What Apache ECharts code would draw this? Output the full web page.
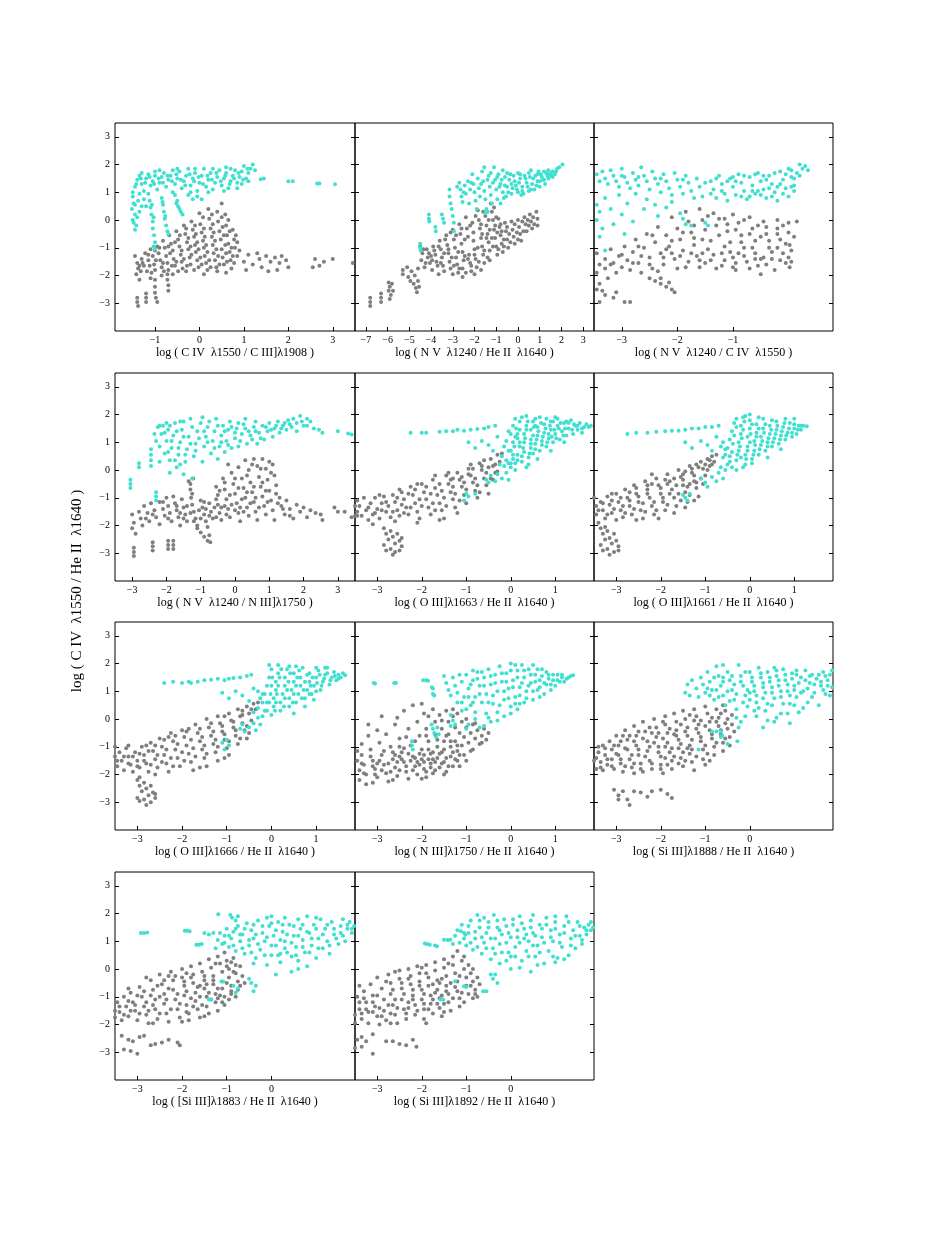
<!DOCTYPE html>
<html>
<head>
<meta charset="utf-8">
<script src="https://cdn.jsdelivr.net/npm/echarts@6/dist/echarts.min.js"></script>
<style>
html,body{margin:0;padding:0;background:#fff}
#chart{width:926px;height:1235px}
</style>
</head>
<body>
<div id="chart"></div>
<script>
// y range shared by all panels
var yTicks=[-3,-2,-1,0,1,2,3];

// axis titles
var xTitles=[
    "log ( C IV  \u03bb1550 / C III]\u03bb1908 )",
    "log ( N V  \u03bb1240 / He II  \u03bb1640 )",
    "log ( N V  \u03bb1240 / C IV  \u03bb1550 )",
    "log ( N V  \u03bb1240 / N III]\u03bb1750 )",
    "log ( O III]\u03bb1663 / He II  \u03bb1640 )",
    "log ( O III]\u03bb1661 / He II  \u03bb1640 )",
    "log ( O III]\u03bb1666 / He II  \u03bb1640 )",
    "log ( N III]\u03bb1750 / He II  \u03bb1640 )",
    "log ( Si III]\u03bb1888 / He II  \u03bb1640 )",
    "log ( [Si III]\u03bb1883 / He II  \u03bb1640 )",
    "log ( Si III]\u03bb1892 / He II  \u03bb1640 )"
];
var yTitle="log ( C IV  \u03bb1550 / He II  \u03bb1640 )";

// x ranges and tick labels of each panel
var xMins=[-1.9,-7.5,-3.5,-3.5,-3.5,-3.5,-3.5,-3.5,-3.5,-3.5,-3.5];
var xMaxs=[3.5,3.5,0.8,3.5,1.87,1.87,1.87,1.87,1.87,1.87,1.87];
var xTicks=[
    [-1,0,1,2,3],
    [-7,-6,-5,-4,-3,-2,-1,0,1,2,3],
    [-3,-2,-1],
    [-3,-2,-1,0,1,2,3],
    [-3,-2,-1,0,1],
    [-3,-2,-1,0,1],
    [-3,-2,-1,0,1],
    [-3,-2,-1,0,1],
    [-3,-2,-1,0],
    [-3,-2,-1,0],
    [-3,-2,-1,0]
];

// panel 1: C IV / C III]
var p1Gray=[[-1.45,-1.3],[-1.4,-1.55],[-1.38,-1.75],[-1.42,-1.95],[-1.35,-2.15],[-1.3,-1.4],[-1.25,-1.65],[-1.22,-1.2],[-1.15,-1.45],[-1.18,-1.85],[-1.1,-1.05],[-1.05,-1.3],[-1.02,-1.6],[-1.0,-1.8],[-0.95,-0.95],[-0.92,-1.2],[-0.88,-1.45],[-0.85,-1.7],[-0.82,-0.75],[-0.78,-1.0],[-0.75,-1.3],[-0.72,-1.55],[-0.7,-1.8],[-0.68,-0.55],[-0.64,-0.85],[-0.6,-1.1],[-0.58,-1.4],[-0.55,-1.65],[-0.52,-0.4],[-0.48,-0.7],[-0.45,-0.95],[-0.42,-1.25],[-0.4,-1.5],[-0.38,-1.75],[-0.35,-0.2],[-0.32,-0.5],[-0.28,-0.8],[-0.25,-1.05],[-0.22,-1.35],[-0.2,-1.6],[-0.18,-0.05],[-0.15,-0.35],[-0.12,-0.6],[-0.1,-0.9],[-0.08,-1.15],[-0.05,-1.45],[-0.02,-1.7],[0.0,0.25],[0.02,-0.15],[0.05,-0.45],[0.08,-0.75],[0.1,-1.0],[0.12,-1.3],[0.15,-1.55],[0.18,-1.8],[0.2,0.4],[0.22,0.05],[0.25,-0.3],[0.28,-0.6],[0.3,-0.9],[0.32,-1.2],[0.35,-1.45],[0.38,-1.7],[0.4,0.3],[0.42,-0.05],[0.45,-0.4],[0.48,-0.7],[0.5,-1.05],[0.52,-1.35],[0.55,-1.6],[0.5,0.6],[0.58,0.2],[0.6,-0.2],[0.62,-0.55],[0.65,-0.85],[0.68,-1.15],[0.7,-1.45],[0.72,-1.75],[0.75,-0.35],[0.78,-0.7],[0.8,-1.0],[0.85,-1.3],[0.9,-1.1],
    [-1.32,-1.85],[-1.28,-1.55],[-1.12,-1.65],[-1.08,-1.9],[-0.98,-1.45],[-0.9,-1.0],[-0.82,-1.55],[-0.8,-1.85],[-0.7,-0.95],[-0.66,-1.2],[-0.62,-1.65],[-0.55,-0.8],[-0.52,-1.5],[-0.48,-1.85],[-0.44,-0.55],[-0.4,-1.1],[-0.35,-1.4],[-0.3,-0.3],[-0.28,-1.65],[-0.25,-0.65],[-0.2,-0.95],[-0.18,-1.25],[-0.12,-1.8],[-0.1,-0.2],[-0.08,-0.5],[-0.05,-0.8],[-0.02,-1.05],[0.02,-1.35],[0.05,-1.6],[0.08,0.1],[0.1,-0.3],[0.12,-0.6],[0.15,-0.9],[0.18,-1.15],[0.22,-1.45],[0.25,-1.7],[0.28,0.2],[0.3,-0.15],[0.32,-0.45],[0.35,-0.75],[0.38,-1.05],[0.42,-1.3],[0.45,-1.6],[0.5,0.1],[0.52,-0.25],[0.55,-0.55],[0.58,-0.9],[0.6,-1.2],[0.62,-1.5],[0.65,0.0],[0.68,-0.4],[0.72,-1.0],[0.75,-1.3],[0.78,-1.55],[0.82,-0.55],[0.85,-0.8],[-1.35,-1.65],[-1.0,-1.1],[-1.15,-1.25],
    [1.0,-1.5],[1.05,-1.8],[1.1,-1.25],[1.2,-1.6],[1.3,-1.2],[1.35,-1.4],[1.4,-1.7],[1.5,-1.3],[1.55,-1.85],[1.6,-1.5],[1.7,-1.35],[1.75,-1.8],[1.8,-1.55],[1.85,-1.3],[1.95,-1.45],[2.0,-1.7],[2.55,-1.7],[2.6,-1.4],[2.7,-1.65],[2.8,-1.5],[3.0,-1.4],[3.45,-1.55],
    [-1.4,-2.8],[-1.4,-2.95],[-1.38,-3.1],[-1.2,-2.65],[-1.2,-2.8],[-1.2,-2.95],[-1.0,-2.15],[-1.0,-2.4],[-1.0,-2.62],[-0.98,-2.8],[-0.95,-2.95],[-0.72,-1.95],[-0.72,-2.15],[-0.7,-2.35],[-0.7,-2.55],[-1.1,-2.1],[-0.85,-2.0],[-0.6,-1.95],[-0.3,-1.85],[0.1,-1.95],[0.4,-1.85],[0.6,-1.9]];
var p1Cyan=[[-1.5,1.0],[-1.45,1.2],[-1.4,1.45],[-1.35,1.6],[-1.3,1.3],[-1.25,1.05],[-1.2,1.5],[-1.15,1.65],[-1.1,1.25],[-1.05,1.4],[-1.0,1.6],[-0.95,1.1],[-0.9,1.35],[-0.85,1.55],[-0.8,1.7],[-0.75,1.2],[-0.7,1.45],[-0.65,1.6],[-0.6,1.0],[-0.55,1.3],[-0.5,1.5],[-0.45,1.75],[-0.4,1.15],[-0.35,1.4],[-0.3,1.6],[-0.25,1.85],[-0.2,1.25],[-0.15,1.5],[-0.1,1.7],[-0.05,1.05],[0.0,1.35],[0.05,1.6],[0.1,1.85],[0.15,1.2],[0.2,1.45],[0.25,1.7],[0.3,1.1],[0.35,1.35],[0.4,1.55],[0.45,1.8],[0.5,1.25],[0.55,1.5],[0.6,1.7],[0.65,1.15],[0.7,1.4],[0.75,1.6],[0.8,1.8],[0.85,1.35],[0.9,1.55],[0.95,1.75],[1.0,1.95],[1.05,1.5],[1.1,1.7],[1.15,1.85],[1.2,2.0],[1.25,1.8],[1.1,1.4],[0.95,1.3],
    [-1.3,1.7],[-0.9,1.8],[-0.5,1.85],[0.3,1.85],[0.6,1.9],[-0.2,1.0],[0.2,1.0],[0.55,1.05],[0.85,1.15],
    [-1.42,1.3],[-1.32,1.5],[-1.22,1.35],[-1.12,1.55],[-1.02,1.3],[-0.92,1.5],[-0.82,1.35],[-0.72,1.6],[-0.62,1.4],[-0.52,1.65],[-0.42,1.45],[-0.32,1.25],[-0.22,1.65],[-0.12,1.4],[-0.02,1.55],[0.08,1.3],[0.18,1.6],[0.28,1.45],[0.38,1.7],[0.48,1.4],[0.58,1.6],[0.68,1.3],[0.78,1.5],[0.88,1.7],[0.98,1.45],[1.08,1.85],[-1.0,1.75],[-0.6,1.8],[-0.1,1.85],[0.7,1.85],
    [1.38,1.47],[1.45,1.5],[2.0,1.4],[2.1,1.4],[2.65,1.32],[2.7,1.32],[3.05,1.29],
    [-1.5,0.85],[-1.48,0.6],[-1.52,0.4],[-1.45,0.2],[-1.5,0.0],[-1.42,-0.2],[-1.45,-0.35],[-1.38,0.7],[-1.35,0.3],[-1.35,0.95],[-1.25,0.75],[-1.2,0.5],[-1.15,0.95],[-1.45,0.55],[-1.4,0.1],[-1.48,-0.1],[-1.3,0.5],
    [-1.12,0.7],[-1.1,0.45],[-1.08,0.2],[-1.05,-0.05],[-1.05,-0.3],[-1.02,-0.55],[-1.0,-0.8],[-1.0,-1.05],[-1.03,-0.95],[-1.07,0.55],[-1.03,0.1],
    [-0.85,0.8],[-0.82,0.55],[-0.8,0.3],[-0.78,0.05],[-0.75,-0.2],[-0.72,-0.4],[-0.7,-0.5],[-0.83,0.65],[-0.77,0.15],
    [-0.55,0.9],[-0.5,0.7],[-0.48,0.5],[-0.42,0.3],[-0.38,0.2],[-0.52,0.6],[-0.45,0.4],
    [-0.25,0.9],[-0.15,0.75],[-0.05,0.85],[0.05,0.75]];

// panel 2: N V / He II
var p2Gray=[[-6.8,-2.8],[-6.8,-2.95],[-6.8,-3.1],[-6.3,-2.65],[-6.3,-2.8],[-6.3,-2.95],[-5.95,-2.25],[-5.9,-2.4],[-5.95,-2.55],[-5.85,-2.7],[-5.9,-2.85],[-5.8,-2.3],[-5.75,-2.55],
    [-5.3,-1.8],[-5.3,-1.95],[-5.1,-1.7],[-5.05,-2.05],[-4.95,-2.2],[-4.9,-1.85],[-4.8,-2.3],[-4.75,-2.0],[-4.7,-2.45],[-4.65,-2.6],[-4.6,-2.2],[-4.55,-2.4],[-4.6,-1.75],
    [-4.5,-0.95],[-4.4,-1.2],[-4.45,-1.45],[-4.3,-1.7],[-4.2,-1.05],[-4.15,-1.35],[-4.05,-1.55],[-3.95,-1.8],[-3.9,-0.95],[-3.8,-1.25],[-3.75,-1.5],[-3.6,-0.75],[-3.55,-1.05],[-3.5,-1.35],[-3.45,-1.65],[-3.4,-1.85],[-3.3,-0.55],[-3.25,-0.9],[-3.2,-1.2],[-3.15,-1.5],[-3.1,-1.75],[-3.0,-0.35],[-2.95,-0.7],[-2.9,-1.0],[-2.85,-1.35],[-2.8,-1.6],[-2.75,-1.9],[-2.7,-0.15],[-2.65,-0.5],[-2.6,-0.85],[-2.55,-1.15],[-2.5,-1.45],[-2.55,-1.75],[-2.55,-2.05],[-2.4,0.1],[-2.35,-0.3],[-2.3,-0.6],[-2.25,-1.25],[-2.2,-1.55],[-2.15,-1.85],[-2.1,-0.1],[-2.05,-0.45],[-2.0,-1.05],[-1.95,-1.4],[-1.9,-1.7],[-1.85,0.35],[-1.8,0.0],[-1.75,-0.3],[-1.7,-0.65],[-1.65,-0.95],[-1.6,-1.25],[-1.55,-1.55],[-1.5,0.15],[-1.45,-0.2],[-1.4,-0.5],[-1.35,-0.8],[-1.3,-1.1],[-1.3,-1.45],[-1.25,0.6],[-1.2,0.3],[-1.15,0.0],[-1.1,-0.35],[-1.05,-0.65],[-1.0,-0.95],[-0.95,-1.25],[-0.9,0.05],[-0.85,-0.25],[-0.8,-0.55],[-0.75,-0.85],[-0.7,-1.15],[-0.6,-0.1],[-0.55,-0.4],[-0.5,-0.7],[-0.45,-1.0],[-0.3,-0.05],[-0.25,-0.35],[-0.2,-0.6],[-0.15,-0.85],[0.0,0.0],[0.05,-0.25],[0.1,-0.5],[0.15,-0.75],[0.3,0.1],[0.35,-0.15],[0.4,-0.4],[0.55,0.2],[0.6,-0.05],[0.65,-0.3],[0.85,0.3],[0.9,0.05],[0.9,-0.2],[-4.0,-1.3],[-3.65,-1.95],[-3.0,-1.95],[-2.0,-1.95],[-1.7,-1.8],
    [-4.35,-1.05],[-4.25,-1.55],[-4.1,-1.2],[-3.95,-1.45],[-3.85,-1.1],[-3.7,-1.65],[-3.65,-0.95],[-3.55,-1.55],[-3.4,-1.2],[-3.35,-0.7],[-3.2,-1.05],[-3.1,-0.45],[-3.05,-1.35],[-2.95,-1.65],[-2.85,-0.55],[-2.75,-1.15],[-2.7,-1.75],[-2.6,-0.3],[-2.45,-0.7],[-2.45,-1.3],[-2.4,-1.9],[-2.3,-1.4],[-2.2,-0.2],[-2.15,-1.65],[-2.05,-0.75],[-2.0,-1.25],[-1.95,0.15],[-1.85,-1.0],[-1.8,-1.5],[-1.7,-0.15],[-1.65,-0.5],[-1.6,0.3],[-1.55,-1.1],[-1.45,-0.65],[-1.4,-1.35],[-1.35,0.0],[-1.3,-0.35],[-1.2,-0.65],[-1.15,-0.95],[-1.1,0.45],[-1.05,-0.2],[-1.0,0.1],[-0.95,-0.45],[-0.9,-1.05],[-0.8,-0.15],[-0.75,-0.4],[-0.65,-0.7],[-0.65,-0.95],[-0.5,-0.25],[-0.4,-0.5],[-0.35,-0.8],[-0.15,-0.15],[-0.05,-0.45],[0.0,-0.7],[0.2,-0.05],[0.25,-0.4],[0.45,0.0],[0.5,-0.2],[0.7,0.1],[0.75,-0.15]];
var p2Cyan=[[-4.5,-0.85],[-4.5,-1.0],[-4.48,-1.1],[-4.1,0.2],[-4.1,0.05],[-4.08,-0.05],[-3.8,-0.25],[-3.78,-0.4],[-3.5,0.2],[-3.45,0.05],[-3.4,-0.1],[-3.15,1.1],[-3.15,0.85],[-3.1,0.6],[-3.05,0.4],[-3.0,0.15],[-2.95,-0.1],[-2.95,-0.4],[-2.7,1.35],[-2.65,1.1],[-2.6,0.85],[-2.55,0.65],[-2.45,1.25],[-2.4,0.95],[-2.3,1.4],[-2.25,0.6],[-2.2,1.1],[-2.1,1.65],[-2.05,1.3],[-2.0,1.0],[-1.95,0.7],[-1.9,0.4],[-1.85,1.5],[-1.8,1.15],[-1.75,0.85],[-1.65,1.75],[-1.6,1.4],[-1.55,1.05],[-1.5,0.75],[-1.45,0.4],[-1.5,0.25],[-1.4,0.3],[-1.55,1.9],[-1.35,1.6],[-1.3,1.2],[-1.25,0.9],[-1.2,0.6],[-1.1,1.9],[-1.05,1.45],[-1.0,1.1],[-0.95,0.75],[-0.9,1.65],[-0.8,1.3],[-0.7,1.0],[-0.6,1.55],[-0.55,0.85],[-0.5,1.2],[-0.4,1.45],[-0.3,0.95],[-0.2,1.6],[-0.1,1.25],[0.0,1.0],[0.1,1.5],[0.2,1.2],[0.25,0.95],[0.3,1.6],[0.4,1.35],[0.5,1.05],[0.55,1.55],[0.65,1.3],[0.75,1.1],[0.8,1.6],[0.9,1.4],[1.0,1.2],[1.05,1.65],[1.15,1.45],[1.25,1.3],[1.3,1.7],[1.4,1.5],[1.5,1.6],[1.6,1.75],[1.7,1.65],[1.8,1.85],[1.9,1.9],[2.05,2.0],[1.2,1.75],[0.0,1.7],[-0.5,1.7],[-0.3,1.3],[0.15,0.9],[0.6,1.8],[-0.8,0.6],[-0.7,1.8],[1.4,1.8],[1.6,1.55],[0.95,1.75],
    [-0.95,1.55],[-0.85,1.2],[-0.75,1.45],[-0.65,0.8],[-0.6,1.25],[-0.45,1.0],[-0.35,1.65],[-0.25,1.15],[-0.15,1.4],[-0.05,1.1],[0.05,1.35],[0.1,1.65],[0.2,1.05],[0.35,1.5],[0.45,1.2],[0.5,1.7],[0.6,1.1],[0.7,1.5],[0.85,1.25],[0.9,1.65],[1.0,1.4],[1.1,1.55],[1.2,1.45],[1.35,1.6],[1.45,1.65],[1.55,1.7],[1.75,1.75],[-1.15,1.35],[-1.25,1.7],[-1.4,1.45],[-1.7,1.3],[-2.15,1.35],[-2.5,1.0],[-2.8,1.2]];

// panel 3: N V / C IV
var p3Gray=[[-3.45,-1.2],[-3.4,-1.6],[-3.45,-1.9],[-3.4,-2.3],[-3.3,-1.4],[-3.3,-1.75],[-3.25,-2.1],[-3.2,-1.05],[-3.15,-1.55],[-3.1,-1.9],[-3.05,-1.3],[-3.0,-1.7],[-2.95,-0.95],[-2.9,-1.45],[-2.85,-1.8],[-2.8,-1.15],[-2.75,-0.7],[-2.7,-1.55],[-2.65,-1.9],[-2.6,-1.0],[-2.55,-0.5],[-2.5,-1.35],[-2.45,-1.75],[-2.4,-0.8],[-2.35,-0.25],[-2.3,-1.2],[-2.25,-1.6],[-2.2,-0.55],[-2.15,-0.95],[-2.1,0.1],[-2.05,-1.4],[-2.0,-1.75],[-2.0,-0.3],[-1.95,-0.7],[-1.9,-1.1],[-1.85,0.3],[-1.8,-0.05],[-1.8,-1.5],[-1.75,-0.45],[-1.7,-0.9],[-1.65,-1.3],[-1.6,0.4],[-1.6,-1.7],[-1.55,0.0],[-1.5,-0.35],[-1.45,-1.05],[-1.4,-1.45],[-1.35,0.25],[-1.3,-0.2],[-1.25,-0.55],[-1.2,-1.2],[-1.2,-1.65],[-1.15,0.05],[-1.1,-0.4],[-1.05,-0.8],[-1.0,0.2],[-1.0,-1.35],[-0.95,-1.8],[-0.9,-0.1],[-0.85,-0.55],[-0.8,-1.0],[-0.75,-1.5],[-0.7,0.1],[-0.65,-0.3],[-0.6,-0.75],[-0.6,-1.2],[-0.55,-1.65],[-0.5,-1.95],[-0.45,-0.05],[-0.4,-0.5],[-0.35,-1.0],[-0.3,-1.4],[-0.25,-1.8],[-0.2,0.0],[-0.2,-0.3],[-0.15,-0.7],[-0.1,-1.2],[-0.05,-1.55],[0.0,-0.1],[0.0,-0.45],[0.02,-0.9],[0.0,-1.35],[0.02,-1.7],[0.15,-0.05],[0.1,-0.6],[-0.9,-1.2],[-0.45,-1.35],
    [-2.25,-1.35],[-2.2,-1.05],[-2.1,-1.2],[-2.1,-0.75],[-1.95,-1.3],[-1.9,-0.45],[-1.85,-1.7],[-1.75,-1.2],[-1.7,-0.2],[-1.7,-0.65],[-1.55,-1.2],[-1.55,-0.7],[-1.5,-1.55],[-1.45,0.15],[-1.4,-0.75],[-1.35,-1.25],[-1.3,-1.75],[-1.25,0.05],[-1.15,-0.95],[-1.15,-1.45],[-1.1,-0.15],[-1.05,-1.15],[-0.95,-0.35],[-0.95,-1.55],[-0.85,-0.8],[-0.8,0.0],[-0.8,-1.3],[-0.7,-0.5],[-0.7,-1.75],[-0.65,-1.0],[-0.55,-0.2],[-0.5,-0.6],[-0.5,-1.4],[-0.4,-0.25],[-0.4,-1.6],[-0.35,-0.75],[-0.3,-1.15],[-0.2,-0.5],[-0.2,-1.0],[-0.15,-1.45],[-0.1,-0.2],[-0.05,-0.85],[0.05,-1.1],[0.05,-1.5],[-2.65,-1.3],[-2.8,-1.55],[-3.0,-1.25],[-2.5,-1.6],[-2.35,-1.85],[-1.6,-1.45],[-2.7,-0.95],[-2.45,-0.55],[-3.2,-1.6],[-1.0,-1.7],[-0.6,-1.4],
    [-2.5,-2.1],[-2.4,-2.2],[-2.3,-2.3],[-2.2,-2.4],[-2.1,-2.5],[-2.05,-2.6],[-2.3,-2.1],[-2.15,-2.25],
    [-3.35,-2.55],[-3.3,-2.7],[-3.4,-2.95],[-3.1,-2.6],[-3.15,-2.8],[-2.95,-2.95],[-2.85,-2.95],[-3.45,-2.5]];
var p3Cyan=[[-3.45,1.65],[-3.4,1.4],[-3.35,1.75],[-3.3,1.5],[-3.25,1.3],[-3.2,1.8],[-3.15,1.6],[-3.1,1.4],[-3.05,1.2],[-3.0,1.85],[-2.95,1.55],[-2.9,1.35],[-2.85,1.15],[-2.8,1.7],[-2.75,1.45],[-2.7,1.25],[-2.65,1.9],[-2.6,1.6],[-2.55,1.4],[-2.5,1.1],[-2.45,1.75],[-2.4,1.5],[-2.35,1.3],[-2.3,1.0],[-2.25,1.65],[-2.2,1.4],[-2.15,1.15],[-2.1,0.9],[-2.05,1.7],[-2.0,1.45],[-1.95,1.2],[-1.9,0.95],[-1.85,1.6],[-1.8,1.35],[-1.75,1.05],[-1.7,0.8],[-1.65,1.5],[-1.6,1.2],[-1.55,0.85],
    [-3.45,0.55],[-3.4,0.3],[-3.45,0.0],[-3.35,-0.3],[-3.4,-0.6],[-3.3,-1.1],[-3.3,0.8],[-3.2,0.4],[-3.15,-0.15],[-3.05,0.9],[-3.0,0.2],[-2.95,-0.5],[-2.9,0.6],[-2.8,-0.05],[-2.75,0.95],[-2.6,0.4],[-2.55,0.75],[-2.4,0.55],[-2.35,0.15],[-2.2,0.45],[-2.1,0.65],[-1.95,0.25],[-1.9,0.05],[-1.85,-0.15],[-1.75,-0.2],[-1.5,-0.1],[-1.45,-0.2],
    [-1.4,1.4],[-1.35,1.1],[-1.3,0.8],[-1.25,1.6],[-1.2,1.3],[-1.15,0.95],[-1.1,0.7],[-1.05,1.5],[-1.0,1.2],[-0.95,0.9],[-0.9,1.65],[-0.85,1.35],[-0.8,1.05],[-0.75,0.75],[-0.7,1.55],[-0.65,1.25],[-0.6,0.95],[-0.55,1.7],[-0.5,1.4],[-0.45,1.1],[-0.4,0.8],[-0.35,1.6],[-0.3,1.3],[-0.25,1.0],[-0.2,0.7],[-0.15,1.75],[-0.1,1.45],[-0.05,1.15],[0.0,0.85],[0.0,1.85],[0.05,1.55],[0.1,1.25],[0.15,1.7],[0.2,2.0],[0.25,1.85],[0.1,1.05],[-0.7,0.85],[-0.4,1.45],[-0.2,1.2],[-1.0,1.55],[-0.55,1.05],
    [-1.3,1.5],[-1.2,1.05],[-1.1,1.4],[-0.95,1.4],[-0.85,0.85],[-0.8,1.6],[-0.65,1.05],[-0.6,1.65],[-0.5,0.9],[-0.45,1.6],[-0.35,1.15],[-0.3,0.85],[-0.25,1.7],[-0.15,1.3],[-0.1,0.95],[-0.05,1.65],[0.05,1.2],[0.05,1.8],[0.1,1.5],[0.2,1.6],[0.3,1.95],[0.35,1.8],[-3.0,1.6],[-2.7,1.55],[-2.3,1.5],[-1.9,1.45],[-1.5,1.35],[-1.4,0.95]];

// panel 4: N V / N III]
var p4Gray=[[-3.0,-1.6],[-2.95,-1.9],[-3.0,-2.1],[-2.9,-2.3],[-2.8,-1.5],[-2.75,-1.75],[-2.7,-2.0],[-2.65,-1.3],[-2.55,-1.55],[-2.5,-1.85],[-2.45,-1.2],[-2.35,-1.45],[-2.3,-1.7],[-2.2,-1.95],[-2.2,-1.15],[-2.1,-1.4],[-2.05,-1.65],[-2.0,-1.0],[-1.95,-1.3],[-1.9,-1.55],[-1.85,-1.85],[-1.8,-0.95],[-1.75,-1.2],[-1.7,-1.45],[-1.65,-1.7],[-1.6,-2.0],[-1.55,-1.05],[-1.5,-1.35],[-1.45,-1.6],[-1.4,-1.85],[-1.35,-0.4],[-1.3,-0.7],[-1.28,-1.0],[-1.25,-1.25],[-1.2,-1.5],[-1.15,-1.75],[-1.22,-0.3],[-1.1,-2.0],[-1.0,-1.1],[-0.95,-1.35],[-0.9,-1.6],[-0.85,-1.85],[-0.8,-2.05],[-0.75,-1.2],[-0.7,-1.5],[-0.65,-1.75],[-0.55,-0.6],[-0.5,-0.9],[-0.5,-1.25],[-0.45,-1.55],[-0.4,-1.8],[-0.35,-0.3],[-0.3,-0.7],[-0.25,-1.05],[-0.2,-1.4],[-0.15,-1.7],[-0.2,0.2],[-0.1,-0.1],[-0.05,-0.5],[0.0,-0.85],[0.05,-1.2],[0.1,-1.55],[0.15,-1.85],[0.1,0.1],[0.2,-0.3],[0.25,-0.65],[0.3,-1.0],[0.35,-1.35],[0.4,-1.65],[0.3,0.35],[0.4,0.0],[0.45,-0.45],[0.5,-0.8],[0.55,-1.15],[0.6,-1.5],[0.65,-1.8],[0.55,0.4],[0.65,0.15],[0.7,-0.25],[0.75,-0.6],[0.8,-0.95],[0.85,-1.3],[0.9,-1.6],[0.8,0.4],[0.9,0.05],[0.95,-0.35],[1.0,-0.75],[1.05,-1.1],[1.1,-1.45],[1.15,-1.8],[1.1,0.2],[1.15,-0.2],[1.2,-0.55],[1.3,-1.0],[1.35,-1.3],[1.45,-1.6],[1.5,-1.1],[1.6,-1.4],[1.7,-1.75],[1.8,-1.25],[1.9,-1.5],[2.0,-1.35],[2.1,-1.7],[2.2,-1.45],[2.35,-1.55],[2.5,-1.6],[2.55,-1.8],
    [-0.55,-1.05],[-0.45,-0.75],[-0.4,-1.35],[-0.3,-0.45],[-0.25,-1.6],[-0.15,-0.9],[-0.1,-1.25],[0.0,-0.3],[0.0,-1.45],[0.1,-0.65],[0.2,-1.05],[0.25,-1.5],[0.35,-0.2],[0.35,-0.8],[0.45,-1.2],[0.5,0.2],[0.55,-0.6],[0.6,-1.0],[0.7,-1.35],[0.75,0.05],[0.8,-0.45],[0.9,-0.75],[0.95,-1.15],[1.0,0.3],[1.05,-0.1],[1.2,-0.85],[1.25,-1.2],[-1.7,-1.3],[-1.6,-1.55],[-1.5,-1.75],[-1.4,-1.3],[-1.3,-1.55],[-1.2,-1.85],[-1.05,-1.45],[-1.0,-1.75],[-0.85,-1.4],[-0.75,-1.65],[-0.6,-1.35],[-0.55,-1.7],[-2.1,-1.15],[-1.95,-1.75],[-2.4,-1.6],[-2.6,-1.75],[-1.3,-0.5],[-1.25,-0.85],[-0.9,-1.15],[-0.3,-1.3],[0.15,-1.35],[1.6,-1.65],[1.4,-1.4],
    [-2.95,-2.8],[-2.95,-2.95],[-2.95,-3.1],[-2.4,-2.6],[-2.4,-2.75],[-2.4,-2.9],[-1.95,-2.55],[-1.95,-2.7],[-1.95,-2.85],[-1.8,-2.55],[-1.8,-2.7],[-1.8,-2.85],[-1.1,-2.1],[-1.0,-2.25],[-0.9,-2.4],[-0.8,-2.55],[-0.75,-2.35],[-0.72,-2.6],
    [2.9,-1.35],[3.0,-1.5],[3.2,-1.5],[3.4,-1.7],[3.5,-1.65]];
var p4Cyan=[[-3.05,-0.35],[-3.05,-0.5],[-3.05,-0.65],[-2.8,0.25],[-2.8,0.1],[-2.45,0.75],[-2.45,0.55],[-2.45,0.35],[-2.45,0.15],[-2.3,-0.8],[-2.3,-0.95],[-2.3,-1.1],
    [-2.35,1.3],[-2.3,1.05],[-2.25,1.55],[-2.2,0.85],[-2.15,1.3],[-2.1,1.6],[-2.05,0.6],[-2.0,1.05],[-1.95,1.45],[-1.9,0.35],[-1.85,0.8],[-1.8,1.25],[-1.75,1.7],[-1.7,0.1],[-1.65,0.55],[-1.6,1.0],[-1.55,1.45],[-1.5,-0.15],[-1.45,0.3],[-1.4,0.75],[-1.35,1.2],[-1.3,1.85],[-1.25,-0.3],[-1.2,0.5],[-1.15,0.95],[-1.1,1.4],[-1.0,1.7],[-0.95,0.3],[-0.9,0.85],[-0.85,1.2],[-0.8,1.55],[-0.7,0.6],[-0.65,1.05],[-0.6,1.4],[-0.55,1.85],[-0.5,0.4],[-0.45,0.85],[-0.4,1.25],[-0.35,1.6],[-0.3,0.65],[-0.25,1.05],[-0.2,1.45],[-0.15,1.75],[-0.1,0.8],[0.0,1.15],[0.05,1.5],[0.1,0.85],[0.2,1.3],[0.25,1.65],[0.35,0.95],[0.4,1.4],[0.5,1.1],[0.55,1.55],[0.65,0.95],[0.7,1.35],[0.8,1.6],[0.85,1.1],[0.95,1.4],[1.0,1.7],[1.1,1.2],[1.15,1.5],[1.25,1.75],[1.3,1.35],[1.4,1.6],[1.5,1.45],[1.55,1.8],[1.65,1.55],[1.8,1.7],[1.9,1.95],[2.0,1.6],[2.1,1.85],[2.2,1.75],[2.3,1.5],[2.45,1.45],[2.55,1.35],[3.0,1.4],[3.3,1.32],[3.4,1.28],[-2.0,1.7],[-1.6,1.75],[-0.95,1.9],[-2.2,0.3],[-1.9,-0.1],[-1.5,1.75],[0.6,1.75],[0.3,1.85],[1.8,1.4],
    [-2.2,1.6],[-2.05,1.35],[-1.9,1.6],[-1.85,1.05],[-1.7,1.4],[-1.65,0.8],[-1.5,1.2],[-1.45,0.55],[-1.3,0.95],[-1.25,1.55],[-1.15,0.7],[-1.05,1.15],[-0.9,1.4],[-0.8,1.0],[-0.75,1.75],[-0.6,0.8],[-0.5,1.6],[-0.4,1.0],[-0.3,1.4],[-0.2,0.9],[-0.1,1.55],[0.0,1.35],[0.1,1.7],[0.15,1.05],[0.3,1.5],[0.45,1.25],[0.6,1.4],[0.75,1.15],[0.9,1.55],[1.05,1.45],[1.2,1.6],[1.35,1.5],[1.45,1.7],[1.6,1.65],[1.7,1.85],[1.95,1.75],[2.1,1.6],[-1.95,0.65],[-1.75,0.35],[-1.6,0.2]];

// panel 5: O III]1663 / He II
var p5Gray=[[-3.45,-1.1],[-3.45,-1.5],[-3.4,-1.3],[-3.35,-1.65],[-3.3,-1.0],[-3.25,-1.45],[-3.2,-1.8],[-3.15,-1.2],[-3.1,-1.6],[-3.05,-1.0],[-3.0,-1.4],[-2.95,-1.75],[-2.9,-1.2],[-2.85,-0.95],[-2.8,-1.5],[-2.75,-1.3],[-2.7,-1.7],[-2.65,-0.9],[-2.6,-1.15],[-2.55,-1.45],[-2.5,-1.65],[-2.45,-0.8],[-2.4,-1.05],[-2.35,-1.35],[-2.3,-1.6],[-2.25,-0.6],[-2.2,-0.9],[-2.15,-1.2],[-2.1,-1.5],[-2.05,-1.75],[-2.0,-0.5],[-1.95,-0.8],[-1.9,-1.05],[-1.85,-1.35],[-1.8,-1.6],[-1.75,-0.35],[-1.7,-0.65],[-1.65,-0.9],[-1.6,-1.2],[-1.55,-1.45],[-1.5,-1.75],[-1.45,-0.2],[-1.4,-0.5],[-1.35,-0.8],[-1.3,-1.05],[-1.25,-1.35],[-1.2,-0.1],[-1.15,-0.35],[-1.1,-0.6],[-1.05,-0.9],[-1.0,-1.2],[-0.95,0.05],[-0.9,-0.2],[-0.85,-0.45],[-0.8,-0.75],[-0.75,-1.0],[-0.7,0.25],[-0.65,0.0],[-0.6,-0.3],[-0.55,-0.55],[-0.5,-0.85],[-0.45,0.4],[-0.4,0.15],[-0.35,-0.1],[-0.4,-0.35],[-0.3,0.55],[-0.25,0.3],[-0.2,0.6],[-0.6,0.35],[-0.9,0.2],[-1.3,-0.3],[-1.7,-0.2],[-2.1,-0.5],[-2.5,-0.7],[-2.95,-0.9],[-3.1,-1.95],[-2.6,-1.85],[-2.1,-1.9],[-1.6,-1.8],[-1.2,-1.55],[-3.5,-1.3],[-3.45,-1.65],
    [-3.2,-1.35],[-3.05,-1.55],[-2.9,-1.45],[-2.8,-1.15],[-2.65,-1.5],[-2.55,-1.0],[-2.45,-1.25],[-2.4,-1.55],[-2.3,-0.85],[-2.25,-1.35],[-2.15,-0.7],[-2.05,-1.05],[-2.0,-1.3],[-1.9,-0.6],[-1.8,-0.85],[-1.75,-1.2],[-1.7,-1.45],[-1.6,-0.5],[-1.55,-0.75],[-1.5,-1.0],[-1.45,-1.3],[-1.4,-0.1],[-1.35,-0.35],[-1.3,-0.6],[-1.25,-0.85],[-1.15,-1.1],[-1.1,-0.25],[-1.05,-0.45],[-1.0,-0.7],[-0.95,-0.15],[-0.85,0.05],[-0.8,-0.3],[-0.75,-0.55],[-0.7,-0.8],[-0.65,0.15],[-0.55,-0.1],[-0.5,0.1],[-0.45,-0.3],[-0.35,0.2],[-0.3,-0.05],
    [-2.85,-2.1],[-2.8,-2.3],[-2.75,-2.5],[-2.7,-2.2],[-2.65,-2.4],[-2.6,-2.65],[-2.55,-2.3],[-2.5,-2.55],[-2.45,-2.75],[-2.85,-2.7],[-2.8,-2.9],[-2.7,-2.85],[-2.65,-3.05],[-2.6,-2.95],[-2.5,-2.9],[-2.45,-2.45]];
var p5Cyan=[[-2.25,1.35],[-2.0,1.35],[-1.9,1.35],[-1.6,1.38],[-1.45,1.4],[-1.3,1.4],[-1.2,1.45],[-1.05,1.42],[-0.9,1.45],[-0.75,1.48],[-0.6,1.5],[-0.5,1.55],[-0.35,1.6],
    [-0.95,1.0],[-0.8,0.8],[-0.65,1.05],[-0.5,0.9],[-0.4,0.7],[-0.3,1.2],
    [-1.0,-0.85],[-0.95,-0.95],[-0.8,-0.85],[-1.05,-1.1],
    [-0.55,-0.35],[-0.5,-0.45],[-0.45,-0.2],[-0.35,-0.4],[-0.3,-0.15],[-0.2,-0.3],[-0.1,-0.1],[-0.15,0.15],[-0.05,-0.35],
    [0.0,0.1],[0.05,0.4],[0.0,0.7],[0.05,1.0],[0.0,1.3],[0.05,1.6],[0.1,1.85],[0.1,0.0],[0.15,0.55],[0.2,0.85],[0.15,1.15],[0.2,1.45],[0.2,1.75],[0.25,0.3],[0.3,0.65],[0.3,1.0],[0.3,1.3],[0.35,1.6],[0.35,1.95],[0.4,0.45],[0.45,0.8],[0.45,1.1],[0.45,1.45],[0.5,1.75],[0.5,0.6],[0.55,0.95],[0.6,1.25],[0.6,1.55],[0.65,1.9],[0.65,0.7],[0.7,1.05],[0.75,1.35],[0.75,1.65],[0.8,0.85],[0.85,1.15],[0.9,1.45],[0.9,1.75],[0.95,1.0],[1.0,1.3],[1.05,1.6],[1.05,1.85],[1.1,1.1],[1.15,1.4],[1.2,1.7],[1.25,1.25],[1.3,1.5],[1.35,1.8],[1.4,1.3],[1.45,1.6],[1.5,1.45],[1.55,1.7],[1.6,1.35],[1.65,1.55],[1.7,1.65],[1.75,1.55],[1.8,1.6],[-0.1,0.35],[-0.05,0.7],[-0.1,1.05],[-0.05,1.4],[0.25,1.9],[0.8,1.85],[1.0,1.9],[0.4,0.2],[0.6,0.4],[0.35,0.1],[0.9,0.7],[1.2,1.0],[-0.2,0.5],[-0.15,0.85],[0.1,0.25],[0.55,1.85],
    [0.0,0.25],[0.05,0.55],[0.08,0.85],[0.1,1.2],[0.12,1.5],[0.15,1.3],[0.2,1.0],[0.25,0.5],[0.28,0.8],[0.32,1.15],[0.35,1.45],[0.38,1.75],[0.42,0.6],[0.45,0.95],[0.5,1.25],[0.52,1.55],[0.55,0.75],[0.58,1.1],[0.62,1.4],[0.68,1.7],[0.7,0.9],[0.72,1.2],[0.78,1.5],[0.82,1.0],[0.85,1.3],[0.88,1.6],[0.92,1.2],[0.98,1.45],[1.02,1.15],[1.08,1.5],[1.12,1.7],[1.18,1.25],[1.22,1.5],[1.3,1.7],[1.38,1.45],[1.42,1.65],[1.5,1.6],[1.6,1.5],[-0.05,0.25],[0.15,0.35],[-0.25,0.2],[1.25,1.75],[0.95,1.75],[0.55,1.6]];

// panel 6: O III]1661 / He II
var p6Gray=[[-3.5,-1.0],[-3.45,-1.3],[-3.45,-1.6],[-3.35,-1.15],[-3.3,-1.45],[-3.25,-1.75],[-3.2,-0.95],[-3.15,-1.25],[-3.1,-1.55],[-3.0,-0.85],[-2.95,-1.15],[-2.9,-1.45],[-2.85,-1.7],[-2.8,-0.7],[-2.75,-1.0],[-2.7,-1.3],[-2.65,-1.6],[-2.6,-0.55],[-2.55,-0.85],[-2.5,-1.15],[-2.45,-1.45],[-2.4,-1.75],[-2.35,-0.4],[-2.3,-0.7],[-2.25,-1.0],[-2.2,-1.3],[-2.15,-1.6],[-2.1,-0.3],[-2.05,-0.55],[-2.0,-0.85],[-1.95,-1.15],[-1.9,-1.45],[-1.85,-0.15],[-1.8,-0.4],[-1.75,-0.7],[-1.7,-1.0],[-1.65,-1.3],[-1.6,0.0],[-1.55,-0.25],[-1.5,-0.55],[-1.45,-0.8],[-1.4,-1.15],[-1.35,0.15],[-1.3,-0.1],[-1.25,-0.4],[-1.2,-0.65],[-1.15,-0.95],[-1.1,0.3],[-1.05,0.05],[-1.0,-0.2],[-1.05,-0.5],[-0.95,0.4],[-0.9,0.15],[-0.85,0.5],[-0.8,0.3],[-0.75,0.55],[-1.2,0.2],[-1.5,-0.15],[-1.9,-0.35],[-2.3,-0.55],[-2.7,-0.8],[-3.1,-0.85],[-3.0,-1.8],[-2.55,-1.8],[-2.05,-1.75],[-1.7,-1.55],[-1.45,-1.35],[-1.25,-1.1],[-3.4,-1.9],[-2.2,-0.15],[-1.35,-0.5],
    [-3.4,-1.45],[-3.3,-1.2],[-3.2,-1.6],[-3.1,-1.1],[-3.05,-1.4],[-2.9,-1.0],[-2.85,-1.3],[-2.8,-1.55],[-2.7,-1.1],[-2.6,-1.4],[-2.55,-0.65],[-2.5,-0.95],[-2.4,-1.2],[-2.35,-1.5],[-2.3,-0.85],[-2.2,-0.5],[-2.15,-1.15],[-2.1,-1.45],[-2.0,-0.65],[-1.95,-1.0],[-1.85,-0.5],[-1.85,-1.25],[-1.8,-0.85],[-1.7,-0.3],[-1.65,-0.55],[-1.6,-0.85],[-1.55,-1.1],[-1.5,-0.35],[-1.45,-0.05],[-1.4,-0.6],[-1.35,-0.9],[-1.3,0.05],[-1.25,-0.2],[-1.2,-0.45],[-1.15,0.1],[-1.1,-0.3],[-1.0,0.2],[-0.95,0.0],[-0.9,0.35],[-0.85,0.2],
    [-3.35,-2.1],[-3.3,-2.3],[-3.25,-2.5],[-3.2,-2.2],[-3.15,-2.45],[-3.1,-2.65],[-3.05,-2.3],[-3.0,-2.55],[-2.95,-2.75],[-3.35,-2.7],[-3.3,-2.9],[-3.2,-2.85],[-3.15,-3.05],[-3.05,-2.95],[-2.95,-2.9],[-3.25,-2.05]];
var p6Cyan=[[-2.75,1.3],[-2.55,1.35],[-2.3,1.35],[-2.1,1.38],[-1.9,1.4],[-1.75,1.42],[-1.6,1.42],[-1.45,1.45],[-1.3,1.5],[-1.15,1.5],[-1.0,1.55],[-0.85,1.55],[-0.7,1.6],
    [-1.45,1.0],[-1.3,0.8],[-1.1,1.05],[-0.95,0.9],[-0.85,0.7],[-0.75,1.2],[-0.65,0.85],
    [-1.5,-0.9],[-1.45,-1.0],[-1.35,-0.85],[-1.4,-1.1],
    [-1.1,-0.3],[-1.0,-0.45],[-0.95,-0.6],[-0.85,-0.25],[-0.75,-0.4],[-0.7,-0.1],[-0.6,-0.3],[-0.65,0.1],[-0.55,0.0],
    [-0.5,0.2],[-0.45,0.5],[-0.5,0.8],[-0.45,1.1],[-0.4,1.4],[-0.35,1.7],[-0.3,0.0],[-0.3,0.35],[-0.25,0.7],[-0.25,1.0],[-0.2,1.3],[-0.2,1.6],[-0.15,1.9],[-0.1,0.2],[-0.1,0.55],[-0.05,0.85],[-0.05,1.2],[0.0,1.5],[0.0,1.8],[0.0,2.0],[0.05,0.4],[0.1,0.7],[0.1,1.05],[0.15,1.35],[0.15,1.65],[0.2,0.55],[0.25,0.9],[0.25,1.2],[0.3,1.5],[0.3,1.85],[0.35,0.7],[0.4,1.0],[0.45,1.3],[0.45,1.6],[0.5,0.85],[0.55,1.15],[0.6,1.45],[0.6,1.75],[0.65,0.95],[0.7,1.25],[0.75,1.55],[0.8,1.1],[0.85,1.35],[0.9,1.7],[0.95,1.2],[1.0,1.5],[1.05,1.3],[1.1,1.6],[1.15,1.45],[1.2,1.6],[1.28,1.58],[-0.6,0.45],[-0.55,0.75],[-0.6,1.0],[-0.4,0.1],[-0.15,0.1],[0.05,0.25],[0.4,0.45],[0.7,0.75],[-0.3,1.85],[0.2,1.9],[0.5,1.8],[0.8,1.85],[1.0,1.85],[-0.2,0.45],
    [-0.45,0.3],[-0.4,0.65],[-0.38,0.95],[-0.35,1.25],[-0.3,1.55],[-0.28,0.55],[-0.22,0.85],[-0.18,1.15],[-0.15,1.45],[-0.12,1.75],[-0.08,0.4],[-0.05,0.7],[0.0,1.0],[0.02,1.3],[0.05,1.65],[0.08,0.55],[0.12,0.9],[0.15,1.2],[0.2,1.5],[0.22,0.75],[0.28,1.05],[0.32,1.35],[0.35,1.65],[0.4,0.85],[0.42,1.15],[0.48,1.45],[0.52,1.0],[0.58,1.3],[0.62,1.6],[0.68,1.1],[0.72,1.4],[0.78,1.7],[0.82,1.25],[0.88,1.5],[0.95,1.35],[1.0,1.65],[1.08,1.45],[1.15,1.6],[-0.55,0.55],[-0.1,1.95]];

// panel 7: O III]1666 / He II
var p7Gray=[[-3.5,-1.0],[-3.5,-1.35],[-3.45,-1.7],[-3.4,-1.2],[-3.35,-1.5],[-3.3,-1.85],[-3.25,-1.05],[-3.2,-1.35],[-3.15,-1.65],[-3.1,-1.9],[-3.05,-1.2],[-3.0,-1.5],[-2.95,-1.75],[-2.9,-1.0],[-2.85,-1.3],[-2.8,-1.6],[-2.75,-1.9],[-2.7,-0.85],[-2.65,-1.15],[-2.6,-1.45],[-2.55,-1.75],[-2.5,-0.7],[-2.45,-1.0],[-2.4,-1.3],[-2.35,-1.6],[-2.3,-1.9],[-2.25,-0.5],[-2.2,-0.8],[-2.15,-1.1],[-2.1,-1.4],[-2.05,-1.7],[-2.0,-0.4],[-1.95,-0.65],[-1.9,-0.95],[-1.85,-1.25],[-1.8,-1.55],[-1.75,-1.85],[-1.7,-0.2],[-1.65,-0.5],[-1.6,-0.8],[-1.55,-1.1],[-1.5,-1.4],[-1.45,-1.7],[-1.45,0.0],[-1.4,-0.3],[-1.35,-0.6],[-1.3,-0.9],[-1.25,-1.2],[-1.2,-1.5],[-1.2,0.1],[-1.15,-0.15],[-1.1,-0.45],[-1.05,-0.75],[-1.0,-1.05],[-0.95,-1.3],[-0.95,0.2],[-0.9,-0.05],[-0.85,-0.3],[-0.8,-0.6],[-0.75,-0.9],[-0.75,0.35],[-0.7,0.1],[-0.65,-0.15],[-0.6,-0.4],[-0.55,-0.7],[-0.55,0.45],[-0.5,0.2],[-0.45,-0.05],[-0.4,0.55],[-0.35,0.35],[-0.3,0.6],[-1.85,-0.35],[-2.3,-0.65],[-2.8,-0.95],[-3.2,-0.95],[-1.05,0.1],[-0.65,0.3],[-1.6,-1.75],[-1.05,-1.4],[-2.6,-2.0],
    [-3.45,-1.5],[-3.3,-1.35],[-3.2,-1.6],[-3.1,-1.35],[-3.0,-1.7],[-2.95,-1.25],[-2.85,-1.5],[-2.75,-1.15],[-2.7,-1.65],[-2.6,-0.95],[-2.55,-1.3],[-2.45,-1.55],[-2.4,-0.75],[-2.35,-1.1],[-2.25,-1.4],[-2.2,-1.7],[-2.15,-0.6],[-2.1,-0.9],[-2.0,-1.2],[-1.95,-1.5],[-1.9,-0.45],[-1.8,-0.75],[-1.75,-1.05],[-1.7,-1.35],[-1.6,-0.35],[-1.55,-0.65],[-1.5,-0.95],[-1.45,-1.25],[-1.35,-0.15],[-1.3,-0.45],[-1.25,-0.75],[-1.2,-1.0],[-1.1,-0.25],[-1.05,-0.55],[-0.95,-0.8],[-0.85,-0.1],[-0.8,-0.4],[-0.7,-0.7],[-0.65,0.15],[-0.55,-0.25],[-0.45,0.35],[-0.5,-0.5],
    [-3.0,-2.2],[-2.95,-2.4],[-2.9,-2.6],[-2.85,-2.3],[-2.8,-2.5],[-2.75,-2.75],[-2.7,-2.4],[-2.65,-2.65],[-2.6,-2.85],[-3.0,-2.85],[-2.95,-2.95],[-2.85,-2.9],[-2.8,-3.1],[-2.7,-3.0],[-2.6,-2.7],[-2.95,-2.1]];
var p7Cyan=[[-2.4,1.3],[-2.2,1.35],[-2.0,1.3],[-1.85,1.35],[-1.8,1.3],[-1.65,1.35],[-1.5,1.4],[-1.35,1.42],[-1.2,1.45],[-1.05,1.4],[-0.95,1.45],[-0.85,1.48],[-0.7,1.5],[-0.55,1.55],[-0.45,1.6],
    [-1.1,0.95],[-0.95,0.75],[-0.8,1.0],[-0.65,0.85],[-0.5,0.65],[-0.4,1.1],
    [-1.1,-0.85],[-1.0,-0.75],[-0.95,-0.95],[-1.05,-1.1],
    [-0.7,-0.35],[-0.65,-0.2],[-0.6,-0.45],[-0.5,-0.3],[-0.4,-0.15],[-0.35,-0.4],[-0.25,-0.2],[-0.3,0.05],[-0.2,0.1],
    [-0.15,0.3],[-0.1,0.6],[-0.15,0.9],[-0.1,1.2],[-0.05,1.5],[0.0,1.8],[0.0,0.15],[0.05,0.45],[0.05,0.75],[0.1,1.05],[0.1,1.35],[0.15,1.65],[0.15,1.95],[0.2,0.3],[0.2,0.6],[0.25,0.9],[0.3,1.2],[0.3,1.5],[0.35,1.8],[0.4,0.45],[0.4,0.75],[0.45,1.05],[0.5,1.35],[0.5,1.65],[0.55,0.6],[0.6,0.9],[0.65,1.2],[0.65,1.5],[0.7,1.85],[0.75,0.75],[0.8,1.05],[0.85,1.35],[0.85,1.65],[0.9,0.9],[0.95,1.2],[1.0,1.5],[1.05,1.75],[1.1,1.05],[1.15,1.35],[1.2,1.6],[1.25,1.85],[1.3,1.25],[1.35,1.5],[1.4,1.7],[1.45,1.4],[1.5,1.6],[1.55,1.5],[1.6,1.65],[1.65,1.58],[-0.3,0.4],[-0.25,0.75],[-0.3,1.0],[0.5,0.2],[0.75,0.45],[0.95,0.7],[-0.05,1.95],[0.55,1.9],[1.0,1.85],[1.2,1.85],[-0.4,0.25],
    [-0.1,0.3],[-0.05,0.6],[-0.02,0.9],[0.0,1.2],[0.02,1.5],[0.08,0.3],[0.1,0.6],[0.12,0.9],[0.15,1.2],[0.18,1.5],[0.22,1.8],[0.28,0.45],[0.3,0.75],[0.35,1.05],[0.38,1.35],[0.42,1.65],[0.48,0.6],[0.5,0.9],[0.55,1.2],[0.58,1.5],[0.62,1.75],[0.68,0.75],[0.72,1.05],[0.75,1.35],[0.8,1.6],[0.85,0.9],[0.88,1.2],[0.92,1.5],[1.0,1.0],[1.02,1.3],[1.08,1.6],[1.12,1.2],[1.18,1.45],[1.25,1.65],[1.32,1.4],[1.42,1.55],[1.5,1.45],[-0.2,0.6],[-0.2,0.9],[0.4,1.9]];

// panel 8: N III] / He II
var p8Gray=[[-3.45,-1.15],[-3.45,-1.5],[-3.4,-1.85],[-3.4,-2.2],[-3.35,-1.3],[-3.3,-1.65],[-3.25,-2.0],[-3.25,-2.35],[-3.2,-0.2],[-3.2,-0.6],[-3.15,-1.1],[-3.1,-1.5],[-3.05,-1.8],[-3.0,-2.1],[-3.0,-0.4],[-2.95,-0.85],[-2.9,0.1],[-2.9,-1.3],[-2.85,-1.65],[-2.8,-1.95],[-2.8,-0.55],[-2.75,-2.25],[-2.7,-1.0],[-2.65,-1.45],[-2.6,-0.2],[-2.6,-1.75],[-2.55,-2.05],[-2.5,-0.7],[-2.45,-1.2],[-2.4,0.3],[-2.4,-1.55],[-2.35,-1.9],[-2.3,-0.35],[-2.3,-2.15],[-2.25,-0.95],[-2.2,-1.35],[-2.2,0.5],[-2.15,-1.7],[-2.1,-2.0],[-2.1,-0.1],[-2.05,-0.6],[-2.0,-1.1],[-2.0,-1.45],[-1.95,0.2],[-1.95,-1.8],[-1.9,-0.35],[-1.9,-2.1],[-1.85,-0.8],[-1.8,-1.25],[-1.8,-1.6],[-1.75,0.35],[-1.75,-1.95],[-1.7,-0.1],[-1.7,-0.55],[-1.65,-1.0],[-1.65,-1.4],[-1.6,-1.75],[-1.6,0.15],[-1.55,-0.35],[-1.55,-1.2],[-1.5,-0.8],[-1.5,-1.55],[-1.45,0.3],[-1.45,-1.9],[-1.4,-0.1],[-1.4,-0.55],[-1.35,-1.0],[-1.35,-1.35],[-1.3,-1.7],[-1.3,0.1],[-1.25,-0.3],[-1.25,-0.8],[-1.2,-1.15],[-1.2,-1.5],[-1.15,-0.5],[-1.1,-0.1],[-1.1,-0.95],[-1.05,-1.3],[-1.05,-0.65],[-1.0,-0.3],[-0.95,-0.85],[-0.9,-1.15],[-0.9,-0.5],[-0.85,-0.2],[-0.8,-0.7],[-0.75,-0.4],[-0.7,-0.9],[-0.65,-0.6],[-0.6,-0.35],[-0.55,-0.75],[-0.5,-0.5],[-2.0,0.55],[-1.85,0.1],[-2.55,0.05],[-1.3,0.35],[-1.2,0.2],[-1.0,0.0],[-0.8,-0.15],[-3.35,-0.9],[-3.1,-2.3],[-2.65,-2.2],[-2.0,-2.15],[-1.5,-2.0],[-1.15,-1.7],[-1.0,-1.5],[-0.85,-1.1],[-0.65,-0.85],[-2.5,-1.0],[-1.75,-1.45],[-2.35,-0.65],
    [-3.35,-1.6],[-3.3,-1.95],[-3.15,-1.35],[-3.1,-1.7],[-3.05,-2.0],[-2.95,-1.5],[-2.9,-1.85],[-2.85,-1.15],[-2.75,-1.6],[-2.7,-1.9],[-2.65,-1.2],[-2.55,-1.55],[-2.5,-1.85],[-2.45,-1.45],[-2.4,-1.05],[-2.35,-1.7],[-2.3,-1.25],[-2.25,-1.5],[-2.2,-1.85],[-2.15,-1.4],[-2.1,-1.55],[-2.05,-1.25],[-2.05,-1.65],[-1.95,-1.3],[-1.95,-1.55],[-1.9,-1.9],[-1.85,-1.1],[-1.85,-1.45],[-1.8,-1.75],[-1.75,-1.2],[-1.7,-1.55],[-1.7,-1.85],[-1.65,-0.75],[-1.6,-1.25],[-1.55,-1.6],[-1.5,-1.1],[-1.45,-1.4],[-1.45,-0.6],[-1.4,-1.7],[-1.35,-0.8],[-1.3,-1.2],[-1.25,-1.45],[-1.2,-0.95],[-1.15,-1.3],[-2.6,-1.3],[-2.5,-1.35],[-3.0,-1.6],[-2.15,-0.8],[-1.9,-0.6],[-1.55,-0.05]];
var p8Cyan=[[-3.08,1.3],[-3.05,1.28],[-2.62,1.3],[-2.58,1.3],[-1.97,1.4],[-1.9,1.4],[-1.86,1.38],[-1.77,1.15],[-1.75,1.1],[-1.75,0.9],[-1.72,0.85],
    [-1.78,-0.2],[-1.75,-0.35],[-1.72,-0.5],[-1.68,-0.65],[-1.65,-0.3],[-1.62,-0.55],[-2.22,-0.8],[-2.22,-0.95],[-2.2,-1.1],[-1.35,0.15],[-1.3,-0.05],[-1.25,-0.2],[-1.35,-0.25],
    [-1.5,1.55],[-1.45,1.3],[-1.4,1.05],[-1.35,0.85],[-1.3,1.5],[-1.25,1.2],[-1.2,0.95],[-1.15,1.6],[-1.1,1.35],[-1.05,0.8],[-1.2,0.6],[-1.1,0.3],
    [-1.0,1.6],[-0.95,1.1],[-0.9,0.5],[-0.85,1.4],[-0.8,0.8],[-0.8,0.0],[-0.75,1.7],[-0.7,1.2],[-0.7,-0.3],[-0.65,0.6],[-0.6,1.5],[-0.55,0.9],[-0.55,0.2],[-0.5,1.8],[-0.45,1.25],[-0.45,-0.1],[-0.4,0.55],[-0.35,1.6],[-0.3,1.0],[-0.3,0.25],[-0.25,1.9],[-0.2,1.35],[-0.15,0.7],[-0.15,0.1],[-0.1,1.65],[-0.05,1.1],[0.0,0.45],[0.0,2.0],[0.05,1.4],[0.1,0.8],[0.15,1.75],[0.15,0.35],[0.2,1.15],[0.25,1.95],[0.3,0.6],[0.3,1.5],[0.35,1.0],[0.4,1.8],[0.45,1.3],[0.5,0.7],[0.55,1.6],[0.6,1.05],[0.65,1.4],[0.7,1.8],[0.75,0.9],[0.8,1.25],[0.85,1.6],[0.9,1.05],[0.95,1.4],[1.0,1.2],[1.05,1.6],[1.1,1.35],[1.15,1.5],[1.25,1.45],[1.35,1.55],[1.4,1.58],[0.2,0.55],[-0.6,-0.25],[-0.95,-0.2],[-1.0,-0.35],[0.65,0.8],[-0.85,1.75],[0.1,1.95],[0.5,1.95],[-1.0,0.35],
    [-0.95,0.8],[-0.9,1.25],[-0.85,0.6],[-0.75,1.45],[-0.7,0.9],[-0.65,1.7],[-0.6,1.2],[-0.5,0.6],[-0.45,1.55],[-0.4,0.85],[-0.35,1.3],[-0.25,0.5],[-0.2,1.65],[-0.15,1.0],[-0.1,1.35],[-0.05,0.75],[0.0,1.75],[0.05,1.15],[0.1,0.55],[0.15,1.5],[0.2,0.85],[0.25,1.3],[0.3,1.75],[0.35,0.75],[0.4,1.2],[0.45,1.6],[0.5,1.0],[0.55,1.35],[0.6,1.8],[0.65,1.15],[0.7,1.55],[0.75,1.3],[0.8,1.7],[0.85,1.45],[0.9,1.25],[0.95,1.6],[1.05,1.4],[1.15,1.6],[1.2,1.35],[1.3,1.5],[-1.1,0.6],[-0.8,0.25],[-0.5,0.05],[-0.3,-0.05],[0.0,0.2]];

// panel 9: Si III]1888 / He II
var p9Gray=[[-3.5,-1.5],[-3.45,-1.8],[-3.4,-1.2],[-3.35,-1.55],[-3.3,-0.95],[-3.3,-1.85],[-3.25,-1.3],[-3.2,-1.65],[-3.15,-0.8],[-3.1,-1.1],[-3.1,-1.45],[-3.05,-1.8],[-3.0,-0.6],[-2.95,-0.95],[-2.95,-1.3],[-2.9,-1.6],[-2.85,-1.9],[-2.8,-0.4],[-2.75,-0.75],[-2.75,-1.1],[-2.7,-1.45],[-2.65,-1.75],[-2.6,-0.25],[-2.55,-0.6],[-2.55,-0.95],[-2.5,-1.3],[-2.45,-1.6],[-2.4,-1.9],[-2.4,-0.1],[-2.35,-0.45],[-2.3,-0.8],[-2.3,-1.15],[-2.25,-1.5],[-2.2,-1.8],[-2.15,0.0],[-2.1,-0.3],[-2.1,-0.65],[-2.05,-1.0],[-2.0,-1.35],[-2.0,-1.65],[-1.95,-1.95],[-1.9,0.1],[-1.9,-0.2],[-1.85,-0.5],[-1.85,-0.85],[-1.8,-1.2],[-1.75,-1.5],[-1.75,-1.8],[-1.7,0.2],[-1.65,-0.1],[-1.65,-0.4],[-1.6,-0.75],[-1.6,-1.05],[-1.55,-1.4],[-1.5,-1.7],[-1.5,0.3],[-1.45,0.0],[-1.4,-0.3],[-1.4,-0.6],[-1.35,-0.95],[-1.35,-1.25],[-1.3,-1.55],[-1.25,-1.85],[-1.25,0.35],[-1.2,0.1],[-1.15,-0.2],[-1.15,-0.5],[-1.1,-0.8],[-1.05,-1.1],[-1.05,-1.45],[-1.0,-1.65],[-1.0,0.45],[-0.95,0.2],[-0.9,-0.1],[-0.9,-0.4],[-0.85,-0.7],[-0.8,-1.0],[-0.8,-1.3],[-0.75,0.35],[-0.7,0.05],[-0.7,-0.25],[-0.65,-0.55],[-0.6,-0.85],[-0.6,-1.15],[-0.55,0.3],[-0.5,0.0],[-0.5,-0.35],[-0.45,-0.65],[-0.4,-0.2],[-0.4,0.15],[-0.35,-0.45],[-2.9,-0.8],[-2.2,-0.5],[-1.7,-0.55],[-1.25,-0.05],[-1.9,-1.4],[-1.4,-1.05],[-0.9,-1.5],[-2.6,-1.95],[-3.4,-1.0],[-0.6,0.5],
    [-3.45,-1.4],[-3.35,-1.75],[-3.25,-1.05],[-3.2,-1.45],[-3.1,-1.7],[-3.05,-0.95],[-3.0,-1.25],[-2.9,-1.45],[-2.85,-0.6],[-2.8,-1.05],[-2.8,-1.7],[-2.7,-0.6],[-2.65,-1.3],[-2.6,-0.8],[-2.6,-1.6],[-2.5,-0.45],[-2.5,-1.1],[-2.45,-1.8],[-2.4,-0.7],[-2.35,-1.35],[-2.25,-0.3],[-2.25,-1.0],[-2.2,-1.6],[-2.15,-0.85],[-2.05,-0.5],[-2.05,-1.2],[-2.0,-1.8],[-1.95,-0.1],[-1.95,-0.7],[-1.9,-1.0],[-1.85,-1.65],[-1.8,-0.35],[-1.75,-1.05],[-1.7,-1.35],[-1.65,-0.6],[-1.6,-1.6],[-1.55,-0.2],[-1.55,-0.9],[-1.5,-1.2],[-1.45,-0.45],[-1.45,-1.5],[-1.35,0.15],[-1.3,-0.75],[-1.3,-1.1],[-1.2,-0.35],[-1.2,-1.35],[-1.1,-0.05],[-1.1,-0.65],[-1.0,-0.95],[-1.0,-0.25],[-0.95,-1.25],[-0.85,0.05],[-0.85,-0.55],[-0.75,-0.85],[-0.75,-0.1],[-0.65,0.2],[-0.65,-0.4],[-0.55,-0.7],[-0.55,-0.15],[-0.45,-0.95],
    [-3.05,-2.55],[-2.95,-2.75],[-2.85,-2.6],[-2.75,-2.9],[-2.7,-3.1],[-2.95,-2.9],[-2.6,-2.6],[-2.45,-2.65],[-2.3,-2.8],[-2.2,-2.6],[-2.0,-2.55],[-1.85,-2.7],[-1.75,-2.85]];
var p9Cyan=[[-1.45,0.95],[-1.4,1.25],[-1.35,0.85],[-1.3,1.4],[-1.2,1.1],[-1.15,0.8],[-1.1,1.5],[-1.05,1.25],[-1.0,0.95],[-0.95,1.7],[-0.9,1.35],[-0.85,1.05],[-0.8,0.7],[-0.75,1.9],[-0.7,1.55],[-0.65,1.2],[-0.6,0.85],[-0.55,0.5],[-0.5,1.7],[-0.45,1.4],[-0.4,1.05],[-0.35,0.7],[-0.3,0.35],[-0.25,1.95],[-0.2,1.55],[-0.15,1.2],[-0.1,0.85],[-0.05,0.45],[0.0,1.7],[0.05,1.35],[0.1,1.0],[0.15,0.6],[0.15,0.1],[0.2,1.85],[0.25,1.5],[0.3,1.15],[0.3,0.75],[0.3,-0.3],[0.35,0.3],[0.4,1.7],[0.45,1.35],[0.5,0.95],[0.5,0.5],[0.55,-0.1],[0.6,1.55],[0.65,1.2],[0.7,0.8],[0.7,0.2],[0.75,1.8],[0.8,1.4],[0.85,1.0],[0.9,0.55],[0.9,-0.15],[0.95,1.65],[1.0,1.2],[1.05,0.8],[1.1,0.25],[1.15,1.5],[1.2,1.0],[1.25,1.75],[1.3,0.6],[1.35,1.3],[1.4,1.6],[1.45,0.95],[1.5,1.45],[1.55,0.5],[1.6,1.2],[1.65,1.7],[1.7,0.9],[1.75,1.4],[1.8,1.6],[1.85,1.15],[1.85,1.75],[0.6,0.05],[0.4,-0.05],[0.1,0.3],[-0.1,0.1],[1.2,0.4],[0.0,0.95],[0.55,1.85],[1.05,1.75],[0.85,0.2],[1.0,0.5],[-0.6,1.5],[-0.6,1.95],
    [-0.95,1.1],[-0.9,0.85],[-0.8,1.5],[-0.75,1.05],[-0.7,0.8],[-0.6,1.35],[-0.5,1.0],[-0.45,0.65],[-0.4,1.55],[-0.35,1.25],[-0.3,0.9],[-0.2,1.35],[-0.15,0.6],[-0.1,1.7],[-0.05,1.05],[0.0,0.7],[0.05,1.5],[0.1,1.2],[0.15,0.85],[0.2,0.4],[0.25,1.65],[0.3,1.3],[0.35,0.95],[0.4,0.55],[0.45,1.5],[0.5,1.15],[0.55,0.75],[0.6,1.75],[0.65,1.4],[0.7,1.0],[0.75,0.55],[0.8,1.6],[0.85,1.25],[0.9,0.85],[0.95,1.45],[1.0,1.05],[1.05,1.6],[1.1,1.3],[1.15,0.95],[1.25,1.4],[1.3,1.1],[1.35,1.55],[1.4,0.8],[1.45,1.25],[1.55,1.6],[1.6,1.35],[1.65,1.05],[1.7,1.55],[1.75,1.2],[1.8,0.85],
    [-0.3,0.05],[-0.25,-0.3],[-0.28,-0.8],[-0.5,-0.9],[-0.65,-0.45],[-0.75,-0.45],[-0.2,-0.1],
    [-1.15,-1.1],[-0.65,-0.65],[-0.62,-0.6],[-0.85,-0.45]];

// panel 10: [Si III]1883 / He II
var p10Gray=[[-3.5,-1.5],[-3.5,-1.75],[-3.45,-1.2],[-3.4,-1.55],[-3.35,-1.85],[-3.3,-1.0],[-3.25,-1.35],[-3.2,-1.7],[-3.15,-0.85],[-3.1,-1.2],[-3.05,-1.5],[-3.0,-1.85],[-2.95,-0.65],[-2.9,-1.0],[-2.85,-1.35],[-2.8,-1.65],[-2.75,-1.95],[-2.7,-0.4],[-2.65,-0.75],[-2.6,-1.1],[-2.6,-1.45],[-2.55,-1.8],[-2.5,-0.2],[-2.45,-0.55],[-2.4,-0.9],[-2.4,-1.25],[-2.35,-1.6],[-2.3,-1.9],[-2.25,-0.1],[-2.2,-0.4],[-2.2,-0.75],[-2.15,-1.1],[-2.1,-1.45],[-2.05,-1.75],[-2.0,0.0],[-2.0,-0.3],[-1.95,-0.6],[-1.95,-0.95],[-1.9,-1.3],[-1.85,-1.6],[-1.85,-1.85],[-1.8,0.1],[-1.75,-0.2],[-1.75,-0.5],[-1.7,-0.85],[-1.7,-1.15],[-1.65,-1.45],[-1.6,-1.75],[-1.6,0.2],[-1.55,-0.1],[-1.5,-0.4],[-1.5,-0.7],[-1.45,-1.0],[-1.45,-1.35],[-1.4,-1.6],[-1.4,0.35],[-1.35,0.05],[-1.3,-0.25],[-1.3,-0.55],[-1.25,-0.9],[-1.25,-1.2],[-1.2,-1.5],[-1.2,0.45],[-1.15,0.2],[-1.1,-0.1],[-1.1,-0.7],[-1.05,-1.0],[-1.05,-1.3],[-1.05,0.6],[-1.0,0.3],[-0.95,0.0],[-0.95,-0.3],[-0.9,-0.6],[-0.9,-0.9],[-0.85,0.4],[-0.8,0.15],[-0.8,-0.15],[-0.75,-0.45],[-0.75,-0.75],[-0.7,0.1],[-0.65,-0.25],[-0.6,-0.5],[-3.2,-0.7],[-2.8,-0.3],[-2.3,-0.25],[-1.6,-0.6],[-1.9,-0.15],[-2.65,-1.95],[-2.0,-1.9],[-1.5,-1.7],[-1.2,-1.05],[-0.95,-1.1],[-0.8,-1.0],
    [-3.4,-1.35],[-3.3,-1.65],[-3.2,-1.15],[-3.15,-1.5],[-3.05,-1.3],[-3.0,-0.95],[-2.95,-1.6],[-2.85,-0.8],[-2.8,-1.2],[-2.75,-1.5],[-2.7,-0.95],[-2.65,-1.3],[-2.55,-0.6],[-2.5,-1.0],[-2.5,-1.6],[-2.4,-0.4],[-2.35,-1.1],[-2.3,-0.7],[-2.25,-1.45],[-2.15,-0.25],[-2.1,-0.9],[-2.05,-1.25],[-1.95,-0.45],[-1.9,-0.8],[-1.9,-1.55],[-1.8,-1.05],[-1.8,-0.3],[-1.75,-1.35],[-1.65,-0.65],[-1.6,-1.0],[-1.55,-1.3],[-1.5,-0.25],[-1.45,-0.55],[-1.4,-0.85],[-1.35,-1.1],[-1.3,-0.4],[-1.25,0.2],[-1.2,-0.7],[-1.15,-0.95],[-1.1,-1.2],[-1.0,-0.5],[-1.0,0.1],[-0.9,-0.8],[-0.85,-0.1],[-0.7,-0.6],[-0.9,0.25],
    [-3.35,-2.4],[-3.2,-2.55],[-3.1,-2.6],[-2.95,-2.45],[-2.85,-2.4],[-3.3,-2.9],[-3.15,-2.95],[-3.0,-3.05],[-2.7,-2.75],[-2.6,-2.7],[-2.45,-2.65],[-2.3,-2.55],[-2.1,-2.65],[-2.05,-2.75]];
var p10Cyan=[[-2.92,1.3],[-2.85,1.3],[-2.78,1.32],[-1.94,1.38],[-1.88,1.38],[-1.83,1.36],[-1.68,0.88],[-1.62,0.88],[-1.56,0.9],[-1.5,1.3],[-1.4,1.25],[-1.3,1.3],[-1.19,1.98],[-0.92,1.95],[-0.88,1.85],[-0.8,1.75],[-0.75,1.9],
    [-0.5,-0.35],[-0.45,-0.5],[-0.4,-0.8],[-0.35,-0.6],[-0.85,-0.6],[-0.8,-0.85],[-0.75,-0.7],[-1.4,-1.1],[-1.35,-1.1],[-1.12,-0.45],[-1.08,-0.45],
    [-1.25,0.75],[-1.2,1.05],[-1.1,0.9],[-1.05,1.2],[-1.0,1.45],[-0.95,0.8],[-0.9,1.1],[-0.85,1.35],[-0.8,0.65],[-0.75,1.55],[-0.7,1.0],[-0.65,1.25],[-0.6,0.55],[-0.55,1.65],[-0.5,0.85],[-0.45,1.4],[-0.4,1.1],[-0.35,0.4],[-0.3,1.75],[-0.25,0.7],[-0.2,1.3],[-0.15,1.0],[-0.1,0.15],[-0.05,1.55],[0.0,0.5],[0.05,1.2],[0.1,0.85],[0.1,-0.2],[0.15,1.7],[0.2,0.25],[0.25,1.35],[0.3,1.0],[0.35,0.6],[0.4,1.6],[0.45,-0.1],[0.5,1.2],[0.55,0.8],[0.6,1.8],[0.6,0.3],[0.65,1.45],[0.7,1.05],[0.75,0.6],[0.8,1.9],[0.8,0.1],[0.85,1.3],[0.9,0.85],[0.95,1.6],[1.0,0.4],[1.05,1.1],[1.1,1.8],[1.15,0.75],[1.2,1.45],[1.25,1.0],[1.3,0.55],[1.35,1.7],[1.4,1.25],[1.5,0.9],[1.55,1.55],[1.6,1.2],[1.7,1.45],[1.75,1.7],[1.8,1.3],[1.85,1.55],[0.3,1.85],[-0.1,1.85],[0.0,1.9],[0.2,0.55],[-0.4,0.2],[0.6,0.0],[1.0,1.85],[0.45,0.45],[1.6,1.8],
    [-1.15,1.3],[-1.05,0.95],[-0.95,1.2],[-0.85,0.85],[-0.8,1.45],[-0.7,1.25],[-0.65,0.75],[-0.6,1.45],[-0.5,1.05],[-0.45,0.6],[-0.4,1.6],[-0.35,1.25],[-0.3,0.9],[-0.2,1.55],[-0.15,0.5],[-0.1,1.15],[0.0,1.65],[0.0,0.85],[0.1,1.4],[0.15,0.5],[0.2,1.05],[0.25,1.6],[0.3,0.75],[0.35,1.25],[0.45,0.95],[0.5,1.55],[0.55,0.5],[0.6,1.2],[0.7,1.6],[0.7,0.8],[0.8,1.35],[0.85,0.6],[0.9,1.1],[1.0,1.45],[1.05,0.75],[1.15,1.25],[1.25,1.6],[1.3,0.85],[1.4,1.45],[1.45,1.1],[1.55,1.3],[1.65,1.0],[1.7,1.6],[1.8,1.45]];

// panel 11: Si III]1892 / He II
var p11Gray=[[-3.55,-1.3],[-3.5,-1.65],[-3.5,-1.95],[-3.45,-1.0],[-3.4,-1.45],[-3.35,-1.8],[-3.3,-0.8],[-3.25,-1.2],[-3.2,-1.55],[-3.2,-1.95],[-3.15,-0.55],[-3.1,-0.95],[-3.05,-1.35],[-3.0,-1.7],[-3.0,-0.3],[-2.95,-2.0],[-2.9,-0.7],[-2.85,-1.1],[-2.85,-1.5],[-2.8,-1.85],[-2.75,-0.2],[-2.7,-0.5],[-2.7,-0.9],[-2.65,-1.3],[-2.6,-1.65],[-2.55,-1.95],[-2.5,-0.05],[-2.5,-0.35],[-2.45,-0.7],[-2.45,-1.1],[-2.4,-1.45],[-2.35,-1.8],[-2.3,0.0],[-2.25,-0.25],[-2.25,-0.55],[-2.2,-0.95],[-2.15,-1.3],[-2.15,-1.65],[-2.1,0.1],[-2.05,-0.15],[-2.05,-0.45],[-2.0,-0.75],[-2.0,-1.1],[-1.95,-1.45],[-1.95,-1.8],[-1.9,0.15],[-1.85,-0.3],[-1.85,-0.6],[-1.8,-0.95],[-1.8,-1.25],[-1.75,-1.6],[-1.7,0.25],[-1.7,-0.05],[-1.65,-0.4],[-1.65,-0.75],[-1.6,-1.05],[-1.6,-1.4],[-1.55,-1.7],[-1.5,0.35],[-1.5,0.05],[-1.45,-0.25],[-1.45,-0.6],[-1.4,-0.9],[-1.4,-1.2],[-1.35,-1.5],[-1.3,0.45],[-1.3,0.15],[-1.25,-0.15],[-1.2,-0.45],[-1.2,-0.8],[-1.15,-1.05],[-1.15,-1.35],[-1.2,0.65],[-1.1,0.3],[-1.05,0.0],[-1.0,-0.3],[-1.0,-0.6],[-0.95,-0.9],[-0.95,0.15],[-0.9,-0.15],[-0.85,-0.45],[-0.8,-0.75],[-0.75,-1.0],[-0.75,-0.3],[-0.7,-0.55],[-3.4,-0.6],[-2.6,-0.1],[-2.0,0.05],[-1.6,-0.5],[-2.3,-1.2],[-1.9,-1.95],[-1.5,-1.55],[-1.05,-1.2],[-0.85,-1.05],[-2.7,-1.95],
    [-3.4,-1.2],[-3.35,-1.6],[-3.3,-1.05],[-3.25,-1.45],[-3.1,-1.2],[-3.1,-1.55],[-3.0,-0.95],[-2.95,-1.4],[-2.9,-1.7],[-2.8,-0.45],[-2.75,-1.3],[-2.7,-1.6],[-2.65,-0.75],[-2.6,-1.1],[-2.55,-1.4],[-2.45,-0.5],[-2.4,-0.9],[-2.35,-1.6],[-2.3,-0.35],[-2.3,-1.4],[-2.2,-0.75],[-2.2,-1.1],[-2.1,-1.5],[-2.05,-0.6],[-1.95,-0.9],[-1.95,-1.25],[-1.9,-0.15],[-1.85,-1.45],[-1.75,-0.55],[-1.75,-1.1],[-1.7,-0.85],[-1.65,-1.25],[-1.55,-0.35],[-1.55,-0.95],[-1.5,-1.25],[-1.45,-0.8],[-1.4,0.2],[-1.35,-0.5],[-1.3,-1.05],[-1.25,-0.65],[-1.15,-0.25],[-1.1,-0.85],[-1.05,0.45],[-0.9,-0.6],[-0.85,0.0],[-0.8,-0.9],
    [-3.55,-2.4],[-3.45,-2.55],[-3.35,-2.45],[-3.25,-2.6],[-3.1,-2.35],[-3.5,-2.85],[-3.35,-2.8],[-3.1,-3.05],[-2.8,-2.6],[-2.65,-2.6],[-2.5,-2.7],[-2.35,-2.75],[-2.2,-2.55],[-2.12,-2.8]];
var p11Cyan=[[-1.93,0.92],[-1.88,0.9],[-1.82,0.88],[-1.7,0.85],[-1.66,0.82],[-1.5,1.06],[-1.42,1.05],[-1.36,1.06],[-1.12,1.36],[-1.05,1.3],[-1.02,1.24],
    [-0.45,-0.2],[-0.4,-0.35],[-0.3,-0.5],[-0.35,-0.2],[-0.62,-0.8],[-0.55,-0.8],[-1.05,-0.62],[-1.0,-0.65],[-1.58,-1.1],[-1.52,-1.1],[-1.25,-0.44],
    [-1.3,0.9],[-1.25,1.2],[-1.15,0.95],[-1.1,1.6],[-1.0,0.85],[-0.95,1.3],[-0.9,1.75],[-0.85,0.7],[-0.8,1.1],[-0.75,1.95],[-0.7,1.5],[-0.65,0.55],[-0.6,0.95],[-0.55,1.3],[-0.5,1.7],[-0.45,0.35],[-0.4,0.75],[-0.38,1.95],[-0.35,1.1],[-0.3,1.5],[-0.25,0.2],[-0.2,0.6],[-0.15,1.8],[-0.1,0.95],[-0.05,1.3],[0.0,0.0],[0.0,0.45],[0.05,1.6],[0.1,0.8],[0.15,1.15],[0.2,1.9],[0.25,0.3],[0.3,1.45],[0.35,0.65],[0.4,1.0],[0.45,-0.1],[0.45,1.75],[0.5,1.3],[0.55,0.45],[0.6,0.85],[0.65,1.6],[0.7,1.15],[0.75,0.2],[0.8,1.85],[0.85,0.65],[0.9,1.4],[0.95,1.0],[1.0,1.7],[1.05,0.4],[1.1,1.25],[1.15,0.8],[1.2,1.55],[1.25,1.9],[1.3,0.5],[1.35,1.1],[1.4,1.4],[1.45,0.75],[1.5,1.7],[1.55,1.2],[1.6,0.9],[1.65,1.5],[1.7,1.25],[1.75,1.6],[1.8,1.4],[1.85,1.5],[0.2,0.05],[-0.1,0.3],[0.6,0.15],[1.0,0.25],[-0.6,1.85],[0.5,1.95],[1.0,1.9],[-0.25,1.4],[0.3,1.1],[1.2,0.35],
    [-1.2,1.4],[-1.05,1.1],[-0.95,1.55],[-0.9,0.95],[-0.8,1.35],[-0.75,0.8],[-0.7,1.75],[-0.65,1.15],[-0.55,0.75],[-0.5,1.5],[-0.45,1.1],[-0.35,0.55],[-0.3,1.75],[-0.25,0.9],[-0.2,1.25],[-0.1,1.55],[-0.05,0.6],[0.0,1.15],[0.05,1.8],[0.1,0.45],[0.15,1.4],[0.2,0.95],[0.25,1.65],[0.35,1.25],[0.4,0.45],[0.45,1.5],[0.5,0.85],[0.55,1.2],[0.65,0.6],[0.7,1.45],[0.75,0.95],[0.8,1.6],[0.9,1.15],[0.95,0.45],[1.0,1.45],[1.1,0.95],[1.2,1.3],[1.3,1.7],[1.35,0.85],[1.45,1.2],[1.55,1.55],[1.6,1.05],[1.7,1.4],[1.8,1.7]];

var grayData=[p1Gray,p2Gray,p3Gray,p4Gray,p5Gray,p6Gray,p7Gray,p8Gray,p9Gray,p10Gray,p11Gray];
var cyanData=[p1Cyan,p2Cyan,p3Cyan,p4Cyan,p5Cyan,p6Cyan,p7Cyan,p8Cyan,p9Cyan,p10Cyan,p11Cyan];

///////////////////////////////////////////
var serif="'Liberation Serif','DejaVu Serif',serif";
var colLeft=[115,355,594];
var colWidth=[240,239,239];
var rowTop=[123,373,622,872];
var minus=function (v) {return String(v).replace("-","\u2212");};

var grids=[],xAxes=[],yAxes=[],series=[];
for(var i=0;i<11;i++){
    var r=Math.floor(i/3),c=i%3;
    grids.push({left:colLeft[c],top:rowTop[r],width:colWidth[c],height:208,
        show:true,borderColor:"#000",borderWidth:1,backgroundColor:"transparent"});
    xAxes.push({gridIndex:i,type:"value",min:xMins[i],max:xMaxs[i],position:"bottom",
        axisLine:{show:false,onZero:false},splitLine:{show:false},
        axisTick:{show:true,inside:true,length:4,customValues:xTicks[i],lineStyle:{color:"#000",width:1}},
        axisLabel:{show:true,customValues:xTicks[i],formatter:minus,margin:4,
            fontFamily:serif,fontSize:10,color:"#000"},
        name:xTitles[i],nameLocation:"middle",nameGap:16,
        nameTextStyle:{fontFamily:serif,fontSize:12,color:"#000"}});
    // left y axis (labels only in the first column)
    yAxes.push({gridIndex:i,type:"value",position:"left",min:-4,max:3.5,
        axisLine:{show:false,onZero:false},splitLine:{show:false},
        axisTick:{show:true,inside:true,length:4,customValues:yTicks,lineStyle:{color:"#000",width:1}},
        axisLabel:{show:c===0,customValues:yTicks,formatter:minus,margin:5,
            fontFamily:serif,fontSize:10,color:"#000"}});
    // right y axis, ticks only
    yAxes.push({gridIndex:i,type:"value",position:"right",min:-4,max:3.5,
        axisLine:{show:false,onZero:false},splitLine:{show:false},
        axisTick:{show:true,inside:true,length:4,customValues:yTicks,lineStyle:{color:"#000",width:1}},
        axisLabel:{show:false}});
    series.push({type:"scatter",xAxisIndex:i,yAxisIndex:2*i,data:grayData[i],
        symbolSize:4,itemStyle:{color:"#7f7f7f",opacity:1},silent:true});
    series.push({type:"scatter",xAxisIndex:i,yAxisIndex:2*i,data:cyanData[i],
        symbolSize:4,itemStyle:{color:"#40e0d0",opacity:1},silent:true});
}

var chart=echarts.init(document.getElementById("chart"),null,{renderer:"canvas"});
chart.setOption({
    animation:false,
    backgroundColor:"#fff",
    grid:grids,
    xAxis:xAxes,
    yAxis:yAxes,
    series:series,
    graphic:[{type:"text",x:77,y:591,rotation:Math.PI/2,
        style:{text:yTitle,font:"15px "+serif,fill:"#000",align:"center",verticalAlign:"middle"}}]
});
</script>
</body>
</html>
